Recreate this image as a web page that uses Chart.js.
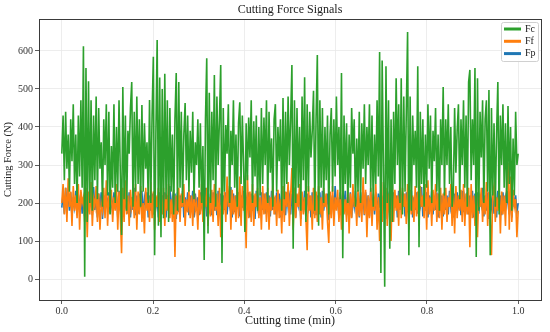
<!DOCTYPE html>
<html>
<head>
<meta charset="utf-8">
<script src="https://cdn.jsdelivr.net/npm/chart.js@4.4.1/dist/chart.umd.min.js"></script>
<style>
  html, body { margin: 0; padding: 0; background: #fff; }
  #wrap { width: 550px; height: 332px; }
</style>
</head>
<body>
<div id="wrap"><canvas id="grafico" width="550" height="332"></canvas></div>
<script>
/* =========================
   DATOS
========================= */

const N_MUESTRAS = 360;
const xTicks = [0, 0.2, 0.4, 0.6, 0.8, 1.0];
const yTicks = [0, 100, 200, 300, 400, 500, 600];
const nombres = ["Fc", "Ff", "Fp"];
const colores = ["#2ca02c", "#ff7f0e", "#1f77b4"];

// tiempo de cada muestra (min), equiespaciado de 0 a 1
const tiempo = Array.from({ length: N_MUESTRAS }, (_, i) => i / (N_MUESTRAS - 1));

const fc = [
  330, 430, 260, 440, 290, 380, 230, 420, 310, 460, 250, 380, 200, 430, 270, 470, 240, 612, 6, 555,
  150, 520, 200, 470, 180, 430, 260, 480, 210, 450, 290, 360, 190, 420, 300, 460, 220, 440, 170, 350,
  240, 460, 200, 400, 230, 470, 280, 116, 505, 210, 430, 180, 390, 330, 450, 518, 190, 440, 230, 480,
  250, 420, 190, 458, 230, 410, 290, 360, 200, 471, 200, 430, 585, 63, 380, 629, 140, 530, 110, 500,
  160, 540, 210, 470, 150, 450, 230, 380, 170, 420, 542, 180, 518, 240, 440, 200, 380, 463, 260, 430,
  230, 390, 280, 440, 210, 360, 300, 420, 240, 410, 200, 350, 50, 420, 581, 120, 490, 200, 440, 260,
  537, 190, 480, 300, 420, 563, 42, 450, 230, 405, 330, 460, 200, 390, 300, 470, 240, 380, 190, 410,
  465, 250, 430, 300, 124, 410, 260, 425, 320, 470, 200, 415, 270, 430, 180, 400, 220, 450, 250, 425,
  300, 470, 200, 440, 280, 370, 190, 420, 460, 230, 400, 310, 420, 180, 476, 210, 440, 250, 480, 300,
  420, 563, 80, 470, 200, 450, 240, 400, 180, 480, 260, 531, 150, 460, 230, 440, 320, 390, 495, 180,
  420, 589, 140, 470, 240, 450, 200, 400, 260, 430, 170, 380, 450, 230, 420, 270, 480, 300, 400, 210,
  542, 55, 430, 250, 410, 200, 380, 240, 450, 330, 420, 190, 370, 230, 440, 200, 410, 290, 460, 250,
  400, 300, 460, 230, 430, 190, 380, 250, 470, 270, 597, 16, 575, 300, -20, 560, 200, 470, 80, 420,
  150, 440, 250, 528, 300, 460, 200, 528, 170, 480, 230, 440, 650, 63, 480, 180, 430, 300, 390, 240,
  560, 84, 440, 250, 420, 190, 380, 240, 460, 290, 430, 200, 390, 310, 450, 230, 380, 180, 420, 300,
  505, 220, 420, 300, 460, 250, 400, 190, 230, 450, 280, 390, 460, 210, 420, 300, 470, 240, 430, 190,
  518, 550, 260, 420, 300, 555, 58, 528, 180, 440, 320, 470, 200, 420, 470, 230, 497, 63, 450, 220,
  410, 190, 380, 518, 170, 430, 300, 460, 240, 410, 200, 455, 250, 400, 180, 370, 220, 440, 300, 330
];

const ff = [
  200, 250, 170, 240, 150, 265, 190, 230, 140, 245, 180, 220, 160, 250, 130, 235, 200, 215, 150, 240,
  110, 230, 170, 255, 140, 210, 190, 245, 150, 225, 130, 200, 180, 240, 160, 260, 140, 220, 190, 235,
  150, 215, 180, 250, 130, 230, 170, 68, 240, 150, 260, 170, 220, 140, 235, 190, 215, 160, 250, 130,
  230, 170, 245, 150, 200, 120, 240, 180, 210, 150, 255, 160, 230, 130, 220, 190, 240, 150, 210, 170,
  240, 140, 225, 180, 250, 160, 210, 150, 235, 58, 220, 170, 240, 150, 225, 190, 250, 140, 210, 175,
  235, 160, 220, 140, 245, 180, 200, 130, 235, 170, 250, 150, 225, 190, 240, 140, 215, 165, 235, 150,
  250, 180, 225, 140, 240, 110, 215, 170, 230, 150, 270, 190, 245, 130, 235, 170, 220, 150, 240, 160,
  270, 140, 245, 180, 215, 81, 274, 160, 230, 150, 250, 140, 225, 190, 240, 160, 215, 130, 245, 170,
  225, 150, 240, 130, 215, 180, 250, 170, 220, 140, 235, 160, 210, 120, 245, 150, 230, 190, 255, 140,
  220, 292, 130, 240, 160, 225, 190, 250, 140, 230, 170, 215, 160, 76, 245, 180, 220, 130, 240, 160,
  230, 150, 245, 170, 215, 130, 240, 190, 225, 150, 95, 230, 160, 245, 140, 215, 180, 235, 150, 220,
  130, 245, 170, 210, 150, 240, 120, 225, 160, 250, 190, 215, 140, 235, 165, 220, 150, 268, 170, 235,
  110, 220, 160, 240, 140, 225, 180, 250, 130, 215, 100, 235, 150, 255, 190, 240, 140, 225, 170, 100,
  250, 150, 235, 180, 220, 140, 270, 160, 240, 190, 225, 145, 250, 130, 235, 170, 220, 150, 245, 165,
  230, 140, 245, 190, 220, 160, 250, 130, 260, 170, 215, 140, 235, 180, 250, 150, 225, 160, 240, 130,
  225, 170, 240, 150, 215, 190, 250, 140, 230, 120, 245, 160, 220, 180, 235, 150, 250, 140, 225, 170,
  240, 84, 250, 160, 220, 140, 235, 110, 225, 190, 240, 150, 215, 170, 255, 140, 230, 160, 63, 225,
  245, 150, 215, 180, 240, 120, 230, 170, 220, 140, 250, 305, 130, 270, 150, 235, 190, 210, 110, 180
];

const fp = [
  188, 225, 172, 240, 195, 220, 180, 228, 162, 215, 190, 232, 168, 220, 182, 228, 172, 215, 165, 225,
  176, 228, 195, 220, 168, 242, 182, 215, 162, 225, 188, 228, 158, 220, 176, 215, 195, 228, 172, 220,
  170, 228, 190, 220, 162, 232, 180, 215, 168, 225, 195, 220, 172, 228, 162, 215, 182, 240, 168, 220,
  172, 225, 188, 232, 165, 215, 195, 228, 162, 220, 180, 225, 170, 232, 190, 215, 162, 228, 176, 220,
  190, 228, 162, 220, 182, 245, 172, 215, 195, 225, 158, 228, 176, 220, 188, 232, 162, 215, 180, 228,
  168, 220, 190, 232, 162, 225, 182, 215, 168, 228, 195, 220, 176, 240, 165, 215, 188, 225, 168, 228,
  180, 215, 168, 232, 190, 225, 162, 220, 182, 228, 170, 215, 195, 242, 162, 225, 176, 220, 188, 228,
  165, 220, 188, 232, 168, 215, 195, 228, 162, 225, 180, 220, 158, 232, 190, 215, 168, 228, 182, 225,
  172, 228, 190, 220, 165, 232, 182, 215, 170, 228, 195, 225, 162, 232, 180, 220, 168, 228, 190, 215,
  170, 225, 188, 240, 162, 220, 195, 228, 158, 215, 182, 232, 165, 225, 190, 220, 162, 228, 172, 232,
  168, 220, 190, 228, 162, 232, 180, 215, 195, 225, 155, 228, 182, 220, 168, 245, 190, 215, 162, 228,
  172, 225, 195, 232, 168, 220, 182, 228, 162, 215, 190, 232, 170, 225, 162, 228, 188, 220, 168, 228,
  182, 220, 165, 232, 195, 215, 170, 228, 162, 225, 188, 240, 168, 220, 180, 228, 158, 215, 195, 225,
  168, 228, 188, 220, 162, 232, 182, 215, 195, 225, 165, 228, 176, 220, 190, 232, 162, 215, 182, 228,
  172, 215, 195, 242, 165, 225, 180, 228, 162, 220, 190, 232, 170, 215, 182, 228, 162, 225, 195, 220,
  165, 228, 182, 220, 170, 232, 190, 215, 162, 225, 180, 228, 195, 220, 168, 232, 176, 215, 188, 228,
  170, 220, 190, 232, 162, 225, 182, 228, 172, 215, 195, 240, 165, 220, 180, 228, 158, 225, 190, 220,
  172, 228, 162, 232, 188, 220, 168, 228, 182, 215, 195, 232, 170, 225, 162, 228, 190, 220, 176, 200
];

const series = [fc, ff, fp];

/* =========================
   PLUGIN: marco, título y leyenda estilo matplotlib
========================= */

const FUENTE = "'Liberation Serif', 'DejaVu Serif', serif";

const marcoPlugin = {
  id: "marco",
  afterDatasetsDraw(chart) {
    const { ctx, chartArea: a } = chart;
    ctx.save();
    ctx.strokeStyle = "#3a3a3a";
    ctx.lineWidth = 1;
    ctx.strokeRect(Math.round(a.left) + 0.5, Math.round(a.top) + 0.5,
      Math.round(a.right - a.left), Math.round(a.bottom - a.top));
    ctx.restore();
  },
  afterDraw(chart) {
    const { ctx, chartArea: a } = chart;
    ctx.save();

    // título centrado sobre los ejes
    ctx.fillStyle = "#222";
    ctx.font = "12px " + FUENTE;
    ctx.textAlign = "center";
    ctx.textBaseline = "middle";
    ctx.fillText("Cutting Force Signals", (a.left + a.right) / 2, 10);

    // leyenda arriba a la derecha
    const bx = a.right - 40, by = a.top + 3, bw = 37, bh = 39;
    ctx.fillStyle = "rgba(255,255,255,0.85)";
    ctx.strokeStyle = "#d0d0d0";
    ctx.lineWidth = 1;
    ctx.beginPath();
    ctx.roundRect(bx + 0.5, by + 0.5, bw, bh, 2);
    ctx.fill();
    ctx.stroke();

    ctx.font = "10px " + FUENTE;
    ctx.textAlign = "left";
    nombres.forEach((nombre, i) => {
      const y = by + 7 + i * 12.3;
      ctx.strokeStyle = colores[i];
      ctx.lineWidth = 3;
      ctx.beginPath();
      ctx.moveTo(bx + 3, y);
      ctx.lineTo(bx + 20, y);
      ctx.stroke();
      ctx.fillStyle = "#222";
      ctx.fillText(nombre, bx + 24, y);
    });
    ctx.restore();
  }
};

/* =========================
   GRÁFICO
========================= */

const datasets = series.map((valores, i) => ({
  label: nombres[i],
  data: valores.map((v, k) => ({ x: tiempo[k], y: v })),
  borderColor: colores[i],
  backgroundColor: colores[i],
  borderWidth: 1.6,
  pointRadius: 0,
  tension: 0
}));

new Chart(document.getElementById("grafico"), {
  type: "line",
  data: { datasets },
  options: {
    responsive: false,
    animation: false,
    layout: { padding: { top: 19, right: 9, left: 0, bottom: 0 } },
    plugins: {
      legend: { display: false },
      title: { display: false },
      tooltip: { enabled: false }
    },
    scales: {
      x: {
        type: "linear",
        min: -0.05,
        max: 1.05,
        afterBuildTicks: (s) => { s.ticks = xTicks.map(v => ({ value: v })); },
        afterFit: (s) => { s.height = 32; },
        ticks: {
          color: "#333",
          font: { family: FUENTE, size: 10 },
          padding: 1,
          maxRotation: 0,
          callback: (v) => Number(v).toFixed(1)
        },
        grid: { color: "#e9e9e9", lineWidth: 0.8, tickColor: "#333", tickLength: 4 },
        border: { display: false },
        title: {
          display: true,
          text: "Cutting time (min)",
          color: "#222",
          font: { family: FUENTE, size: 12 },
          padding: { top: 0, bottom: 4 }
        }
      },
      y: {
        min: -55,
        max: 684,
        afterBuildTicks: (s) => { s.ticks = yTicks.map(v => ({ value: v })); },
        afterFit: (s) => { s.width = 39; },
        ticks: {
          color: "#333",
          font: { family: FUENTE, size: 10 },
          padding: 2
        },
        grid: { color: "#e9e9e9", lineWidth: 0.8, tickColor: "#333", tickLength: 4 },
        border: { display: false },
        title: {
          display: true,
          text: "Cutting Force (N)",
          color: "#222",
          font: { family: FUENTE, size: 10.5 },
          padding: { top: 2, bottom: 0 }
        }
      }
    }
  },
  plugins: [marcoPlugin]
});
</script>
</body>
</html>
